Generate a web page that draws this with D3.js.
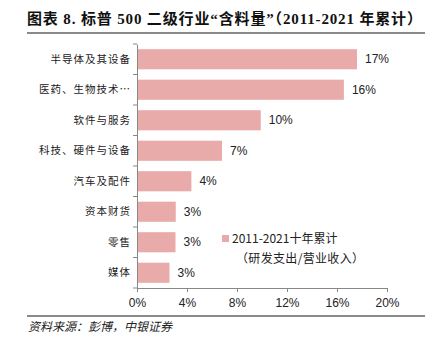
<!DOCTYPE html>
<html><head><meta charset="utf-8">
<script src="https://cdn.jsdelivr.net/npm/d3@7"></script>
<style>body{margin:0;background:#fff}svg{display:block}</style>
</head><body>
<svg id="c" width="438" height="346"></svg>
<script>
const categories = ["半导体及其设备","医药、生物技术…","软件与服务","科技、硬件与设备","汽车及配件","资本财货","零售","媒体"];
const values = [17.6, 16.55, 9.9, 6.8, 4.35, 3.1, 3.08, 2.6];
const valueLabels = ["17%","16%","10%","7%","4%","3%","3%","3%"];
const xTicks = [0,4,8,12,16,20];
const titleText = "图表 8. 标普 500 二级行业“含料量”（2011-2021 年累计）";
const legendLines = ["2011-2021十年累计","（研发支出/营业收入）"];
const sourceText = "资料来源：彭博，中银证券";

const svg = d3.select("#c");
const cjk = "'Noto Sans CJK SC', sans-serif";
const latin = "'Liberation Sans', Arial, sans-serif";
const barColor = "#E9AAAA";

svg.append("text").attr("x",27).attr("y",24).attr("font-family","'Liberation Serif', 'Noto Sans CJK SC', serif")
  .attr("font-weight","bold").attr("font-size",15).attr("fill","#111")
  .attr("textLength",395).attr("lengthAdjust","spacing").text(titleText);
svg.append("line").attr("x1",27).attr("x2",425).attr("y1",33).attr("y2",33).attr("stroke","#8a8a8a").attr("stroke-width",2);

const x = d3.scaleLinear().domain([0,20]).range([137,387]);
const y = d3.scaleBand().domain(categories).range([44,288]).paddingInner(0.34).paddingOuter(0.17);

// bars
svg.append("g").selectAll("rect").data(categories).join("rect")
  .attr("x",x(0)).attr("y",d=>y(d)).attr("height",y.bandwidth())
  .attr("width",(d,i)=>x(values[i])-x(0)).attr("fill",barColor);

// value labels
svg.append("g").selectAll("text").data(categories).join("text")
  .attr("x",(d,i)=>x(values[i])+8).attr("y",d=>y(d)+y.bandwidth()/2).attr("dy","0.35em")
  .attr("font-family",latin).attr("font-size",12).attr("fill","#222").text((d,i)=>valueLabels[i]);

// y axis
const yAxis = d3.axisLeft(y).tickSize(0).tickPadding(6);
const gy = svg.append("g").attr("transform",`translate(${x(0)},0)`).call(yAxis);
gy.select(".domain").attr("stroke","#888");
gy.selectAll("text").attr("font-family",cjk).attr("font-size",10.5).attr("fill","#222").attr("letter-spacing",1);
// band boundary ticks
const bounds = categories.map(d=>y(d)-y.step()*y.paddingInner()/2).concat([288]);
bounds[0]=44;
svg.append("g").selectAll("line").data(bounds).join("line")
  .attr("x1",x(0)-4).attr("x2",x(0)).attr("y1",d=>d).attr("y2",d=>d).attr("stroke","#888");

// x axis
const xAxis = d3.axisBottom(x).tickValues(xTicks).tickFormat(d=>d+"%").tickSize(4).tickPadding(6).tickSizeOuter(0);
const gx = svg.append("g").attr("transform","translate(0,288)").call(xAxis);
gx.select(".domain").attr("stroke","#888");
gx.selectAll(".tick line").attr("stroke","#888");
gx.selectAll("text").attr("font-family",latin).attr("font-size",12).attr("fill","#222");

// legend
svg.append("rect").attr("x",222).attr("y",235).attr("width",7).attr("height",7).attr("fill",barColor);
svg.append("text").attr("x",232).attr("y",243).attr("font-family",cjk).attr("font-size",12).attr("fill","#222").text(legendLines[0]);
svg.append("text").attr("x",236).attr("y",263).attr("font-family",cjk).attr("font-size",12).attr("fill","#222")
  .attr("textLength",128).attr("lengthAdjust","spacing").text(legendLines[1]);

// bottom line + source
svg.append("line").attr("x1",27).attr("x2",425).attr("y1",316).attr("y2",316).attr("stroke","#8a8a8a").attr("stroke-width",2);
svg.append("text").attr("x",28).attr("y",331).attr("font-family",cjk).attr("font-style","italic").attr("font-size",12)
  .attr("fill","#222").text(sourceText);
</script>
</body></html>
